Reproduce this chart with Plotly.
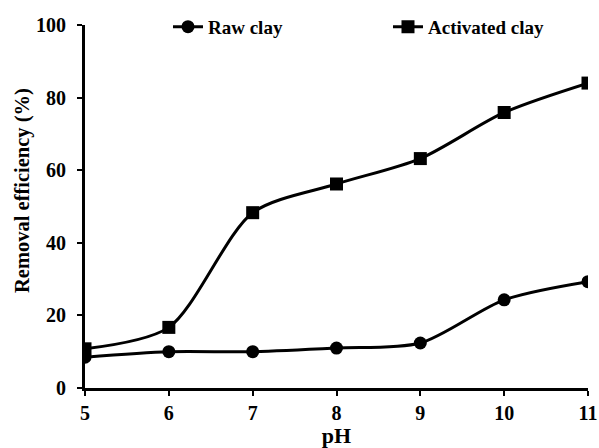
import plotly.graph_objects as go

ph = [5, 6, 7, 8, 9, 10, 11]
raw_clay = [8.5, 10.0, 10.0, 11.0, 12.4, 24.3, 29.3]
activated_clay = [10.8, 16.7, 48.3, 56.2, 63.2, 75.9, 84.0]
y_ticks = [0, 20, 40, 60, 80, 100]

font_family = "Liberation Serif"

fig = go.Figure()
fig.add_trace(go.Scatter(
    x=ph, y=raw_clay, name="<b>Raw clay</b>", mode="lines+markers",
    line=dict(color="black", width=3, shape="spline", smoothing=0.8),
    marker=dict(symbol="circle", size=13, color="black"),
))
fig.add_trace(go.Scatter(
    x=ph, y=activated_clay, name="<b>Activated clay</b>", mode="lines+markers",
    line=dict(color="black", width=3, shape="spline", smoothing=0.8),
    marker=dict(symbol="square", size=13, color="black"),
))

fig.update_layout(
    width=599, height=448,
    margin=dict(l=85, r=11, t=25, b=60, autoexpand=False),
    paper_bgcolor="white", plot_bgcolor="white",
    font=dict(family=font_family, color="black", size=16),
    showlegend=True,
    legend=dict(orientation="h", x=0.165, y=0.995, xanchor="left", yanchor="middle",
                font=dict(family=font_family, size=19, color="black"),
                bgcolor="rgba(0,0,0,0)", entrywidth=175, entrywidthmode="pixels",
                tracegroupgap=0),
    xaxis=dict(
        range=[5, 11], tickvals=ph, ticktext=[f"<b>{v}</b>" for v in ph],
        showline=True, linecolor="black", linewidth=3,
        ticks="outside", ticklen=5, tickwidth=2, tickcolor="black",
        showgrid=False, zeroline=False,
        tickfont=dict(family=font_family, size=20, color="black"),
        title=dict(text="<b>pH</b>", font=dict(family=font_family, size=22, color="black"), standoff=0),
    ),
    yaxis=dict(
        range=[0, 100], tickvals=y_ticks,
        ticktext=[f"<b>{v}</b>" for v in y_ticks],
        showline=True, linecolor="black", linewidth=3,
        ticks="outside", ticklen=5, tickwidth=2, tickcolor="black",
        ticklabelstandoff=7,
        showgrid=False, zeroline=False,
        tickfont=dict(family=font_family, size=20, color="black"),
    ),
    annotations=[dict(
        text="<b>Removal efficiency (%)</b>", textangle=-90,
        xref="paper", yref="paper", x=-0.123, y=0.543,
        xanchor="center", yanchor="middle", showarrow=False,
        font=dict(family=font_family, size=20.5, color="black"),
    )],
)

fig.write_html(
    "out.html",
    config={"displayModeBar": False},
    post_script="document.body.style.margin='0';document.body.style.overflow='hidden';",
)
